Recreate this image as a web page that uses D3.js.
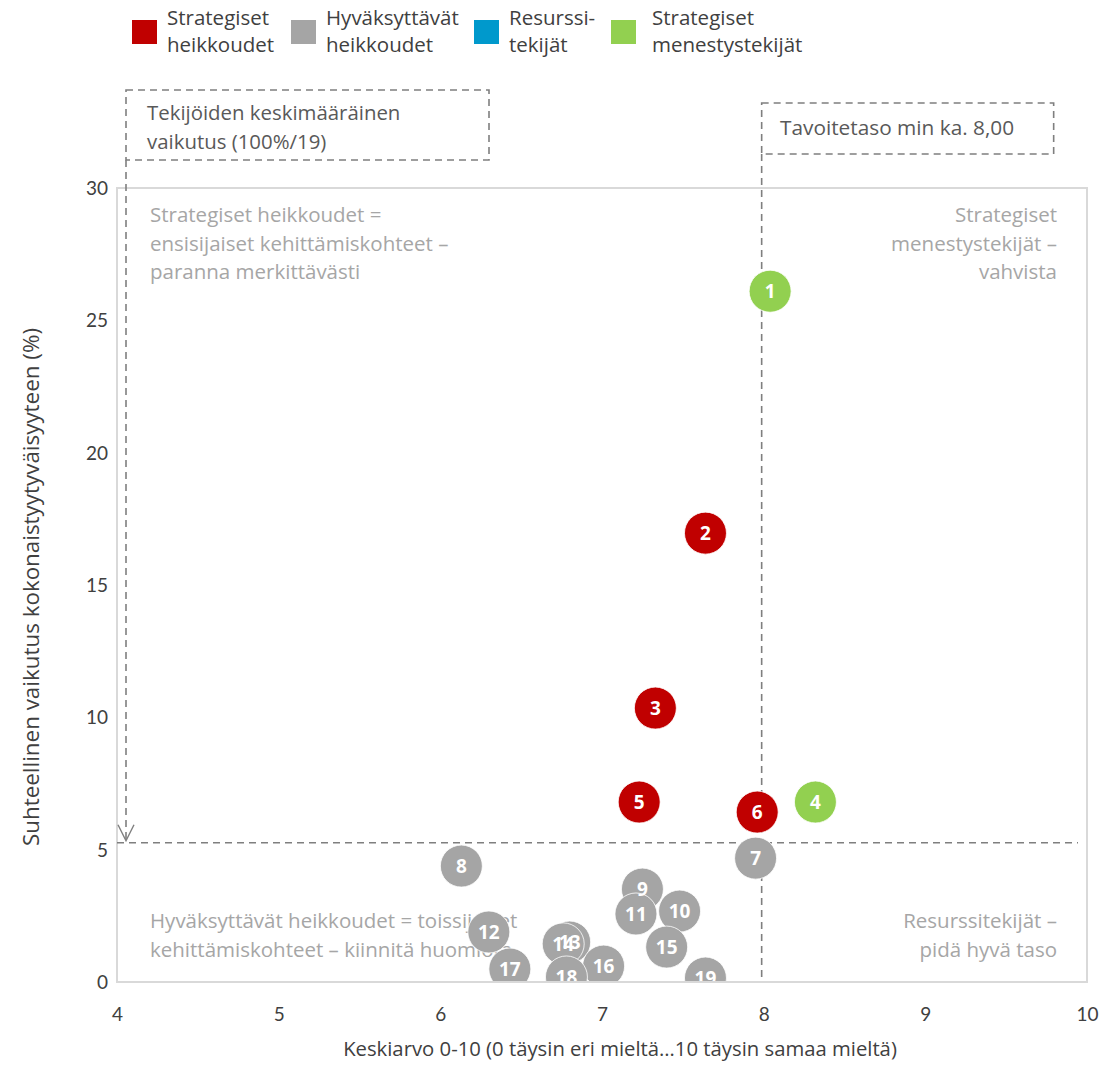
<!DOCTYPE html>
<html>
<head>
<meta charset="utf-8">
<script src="https://cdn.jsdelivr.net/npm/d3@7"></script>
<style>
  body { margin: 0; background: #fff; }
  svg { display: block; }
  .tick text { font-family: Lato, sans-serif; font-size: 19px; fill: #404040; }
</style>
</head>
<body>
<div id="chart"></div>
<script>
// factor ids, mean score (x) and relative impact % (y), quadrant group
const ids = [1, 2, 3, 4, 5, 6, 7, 8, 9, 10, 11, 12, 13, 14, 15, 16, 17, 18, 19]
const means = [8.04, 7.64, 7.33, 8.32, 7.23, 7.96, 7.95, 6.13, 7.25, 7.48, 7.21, 6.30, 6.80, 6.76, 7.40, 7.01, 6.43, 6.78, 7.64]
const impacts = [26.1, 16.96, 10.35, 6.80, 6.80, 6.42, 4.68, 4.38, 3.51, 2.68, 2.57, 1.89, 1.51, 1.44, 1.32, 0.60, 0.49, 0.19, 0.15]
const groups = ['men', 'str', 'str', 'men', 'str', 'str', 'hyv', 'hyv', 'hyv', 'hyv', 'hyv', 'hyv', 'hyv', 'hyv', 'hyv', 'hyv', 'hyv', 'hyv', 'hyv']

const legendKeys = ['str', 'hyv', 'res', 'men']
const legendLabels = [['Strategiset', 'heikkoudet'], ['Hyväksyttävät', 'heikkoudet'], ['Resurssi-', 'tekijät'], ['Strategiset', 'menestystekijät']]
const legendX = [132, 291, 474, 611]

const xTicks = [4, 5, 6, 7, 8, 9, 10]
const yTicks = [0, 5, 10, 15, 20, 25, 30]
const avgImpact = 100 / 19
const target = 8

const color = d3.scaleOrdinal()
  .domain(['str', 'hyv', 'res', 'men'])
  .range(['#C00000', '#A5A5A5', '#0099CC', '#92D050'])

const W = 1103
const H = 1067
const MARGIN = { top: 188, right: 16, bottom: 85, left: 117 }

const svg = d3.select('#chart').append('svg')
  .attr('width', W)
  .attr('height', H)

const x = d3.scaleLinear().domain([4, 10]).range([MARGIN.left, W - MARGIN.right])
const y = d3.scaleLinear().domain([0, 30]).range([H - MARGIN.bottom, MARGIN.top])

const dash = '#7f7f7f'
const quadColor = '#a6a6a6'
const font = '"Open Sans", sans-serif'

// plot frame
svg.append('rect')
  .attr('x', x(4))
  .attr('y', y(30))
  .attr('width', x(10) - x(4))
  .attr('height', y(0) - y(30))
  .attr('fill', 'none')
  .attr('stroke', '#d9d9d9')
  .attr('stroke-width', 2)

// axes
const xAxis = svg.append('g')
  .attr('transform', `translate(0,${y(0) + 20})`)
  .call(d3.axisBottom(x).tickValues(xTicks).tickFormat(d3.format('d')).tickSize(0).tickPadding(6))
xAxis.select('.domain').remove()

const yAxis = svg.append('g')
  .attr('transform', `translate(${x(4) - 9},0)`)
  .call(d3.axisLeft(y).tickValues(yTicks).tickFormat(d3.format('d')).tickSize(0).tickPadding(0))
yAxis.select('.domain').remove()
yAxis.selectAll('text').attr('dy', '0.35em')

svg.append('text')
  .attr('x', 620)
  .attr('y', 1056)
  .attr('text-anchor', 'middle')
  .style('font-family', font)
  .style('font-size', '20.3px')
  .attr('fill', '#404040')
  .text('Keskiarvo 0-10 (0 täysin eri mieltä…10 täysin samaa mieltä)')

svg.append('text')
  .attr('transform', `translate(39,${(y(0) + y(30)) / 2 + 2}) rotate(-90)`)
  .attr('text-anchor', 'middle')
  .style('font-family', font)
  .style('font-size', '22.4px')
  .attr('fill', '#404040')
  .text('Suhteellinen vaikutus kokonaistyytyväisyyteen (%)')

// quadrant labels
function multiline(lines, px, py, anchor) {
  const t = svg.append('text')
    .attr('x', px)
    .attr('y', py)
    .attr('text-anchor', anchor)
    .style('font-family', font)
    .style('font-size', '20.5px')
    .attr('fill', quadColor)
  lines.forEach((l, i) => {
    t.append('tspan').attr('x', px).attr('dy', i === 0 ? 0 : 28.5).text(l)
  })
}
multiline(['Strategiset heikkoudet =', 'ensisijaiset kehittämiskohteet –', 'paranna merkittävästi'], 150, 222, 'start')
multiline(['Strategiset', 'menestystekijät –', 'vahvista'], 1057, 222, 'end')
multiline(['Hyväksyttävät heikkoudet = toissijaiset', 'kehittämiskohteet – kiinnitä huomiota'], 150, 928, 'start')
multiline(['Resurssitekijät –', 'pidä hyvä taso'], 1057, 928, 'end')

// reference lines
svg.append('line')
  .attr('x1', x(4)).attr('x2', 1078)
  .attr('y1', y(avgImpact)).attr('y2', y(avgImpact))
  .attr('stroke', dash).attr('stroke-width', 1.6).attr('stroke-dasharray', '7,5')

svg.append('line')
  .attr('x1', x(target) - 2).attr('x2', x(target) - 2)
  .attr('y1', 154).attr('y2', y(0))
  .attr('stroke', dash).attr('stroke-width', 1.6).attr('stroke-dasharray', '7,5')

// annotation boxes
svg.append('rect')
  .attr('x', 126).attr('y', 90).attr('width', 363).attr('height', 70)
  .attr('fill', 'none').attr('stroke', dash).attr('stroke-width', 1.6).attr('stroke-dasharray', '7,5')

svg.append('text')
  .attr('x', 147).attr('y', 120)
  .style('font-family', font).style('font-size', '20.4px').attr('fill', '#595959')
  .call(t => {
    t.append('tspan').attr('x', 147).text('Tekijöiden keskimääräinen')
    t.append('tspan').attr('x', 147).attr('dy', 29).text('vaikutus (100%/19)')
  })

// arrow from box to average line
svg.append('line')
  .attr('x1', 126).attr('x2', 126)
  .attr('y1', 160).attr('y2', y(avgImpact) - 2)
  .attr('stroke', dash).attr('stroke-width', 1.6).attr('stroke-dasharray', '7,5')
svg.append('path')
  .attr('d', `M118,${y(avgImpact) - 18} L126,${y(avgImpact) - 2} L134,${y(avgImpact) - 18}`)
  .attr('fill', 'none').attr('stroke', dash).attr('stroke-width', 1.4)

svg.append('rect')
  .attr('x', x(target) - 2).attr('y', 103).attr('width', 292).attr('height', 51)
  .attr('fill', 'none').attr('stroke', dash).attr('stroke-width', 1.6).attr('stroke-dasharray', '7,5')

svg.append('text')
  .attr('x', 780).attr('y', 135)
  .style('font-family', font).style('font-size', '20.8px').attr('fill', '#595959')
  .text('Tavoitetaso min ka. 8,00')

// bubbles, clipped to plot area
svg.append('clipPath').attr('id', 'plotclip')
  .append('rect')
  .attr('x', x(4)).attr('y', y(30))
  .attr('width', x(10) - x(4)).attr('height', y(0) - y(30) - 1)

const points = ids.map((id, i) => ({ id, mean: means[i], impact: impacts[i], group: groups[i] }))

const plot = svg.append('g').attr('clip-path', 'url(#plotclip)')

// circles first, labels on top of all circles
plot.append('g')
  .selectAll('circle')
  .data(points)
  .join('circle')
  .attr('cx', d => x(d.mean))
  .attr('cy', d => y(d.impact))
  .attr('r', 21)
  .attr('fill', d => color(d.group))
  .attr('stroke', '#fff')
  .attr('stroke-width', 0.8)

plot.append('g')
  .selectAll('text')
  .data(points)
  .join('text')
  .attr('x', d => x(d.mean))
  .attr('y', d => y(d.impact))
  .attr('text-anchor', 'middle')
  .attr('dy', '0.36em')
  .style('font-family', font)
  .style('font-size', '19px')
  .style('font-weight', 700)
  .attr('fill', '#fff')
  .text(d => d.id)

// legend
const legend = svg.append('g')
  .selectAll('g')
  .data(legendKeys)
  .join('g')
  .attr('transform', (d, i) => `translate(${legendX[i]},0)`)

legend.append('rect')
  .attr('x', 0).attr('y', 20)
  .attr('width', 25).attr('height', 24)
  .attr('fill', d => color(d))

legend.append('text')
  .style('font-family', font)
  .style('font-size', '20.5px')
  .attr('fill', '#404040')
  .each(function (d, i) {
    const t = d3.select(this)
    const dx = i === 3 ? 41 : 35
    legendLabels[i].forEach((l, j) => {
      t.append('tspan').attr('x', dx).attr('y', 25 + j * 27).text(l)
    })
  })
</script>
</body>
</html>
